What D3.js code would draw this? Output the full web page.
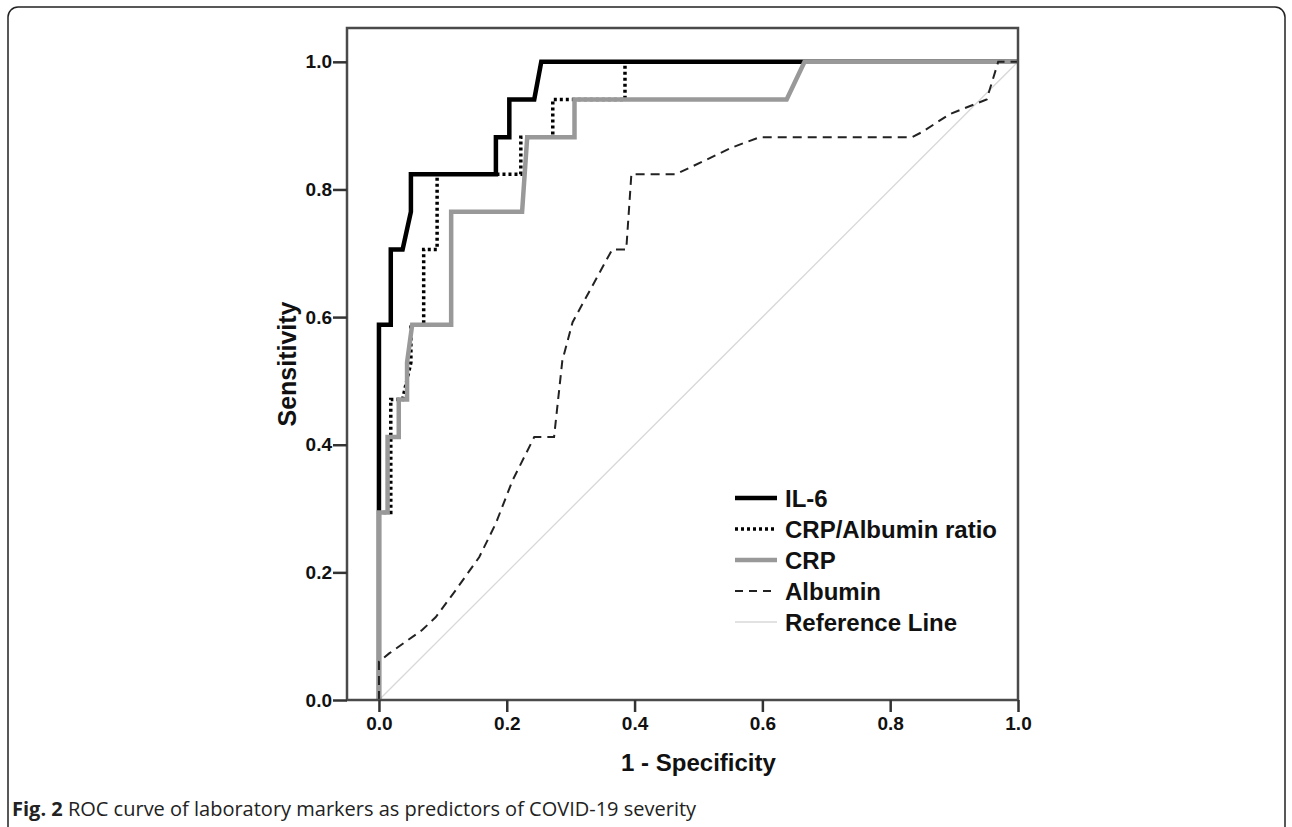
<!DOCTYPE html>
<html>
<head>
<meta charset="utf-8">
<script src="https://cdn.jsdelivr.net/npm/d3@7"></script>
<style>
  body { margin: 0; background: #fff; }
  svg { display: block; }
</style>
</head>
<body>
<div id="chart"></div>
<script>
// ROC curves (1 - specificity, sensitivity)
var il6X = [0, 0, 0.0185, 0.0185, 0.037, 0.05, 0.05, 0.183, 0.183, 0.204, 0.204, 0.243, 0.254, 1];
var il6Y = [0, 0.588, 0.588, 0.706, 0.706, 0.765, 0.824, 0.824, 0.882, 0.882, 0.941, 0.941, 1, 1];

var ratioX = [0, 0, 0.0185, 0.0185, 0.037, 0.05, 0.05, 0.07, 0.07, 0.091, 0.091, 0.222, 0.222, 0.272, 0.272, 0.385, 0.385, 1];
var ratioY = [0, 0.294, 0.294, 0.471, 0.471, 0.529, 0.588, 0.588, 0.706, 0.706, 0.824, 0.824, 0.882, 0.882, 0.941, 0.941, 1, 1];

var crpX = [0, 0, 0.0135, 0.0135, 0.031, 0.031, 0.044, 0.044, 0.052, 0.113, 0.113, 0.224, 0.232, 0.306, 0.306, 0.638, 0.666, 1];
var crpY = [0, 0.294, 0.294, 0.412, 0.412, 0.471, 0.471, 0.529, 0.588, 0.588, 0.765, 0.765, 0.882, 0.882, 0.941, 0.941, 1, 1];

var albX = [0, 0, 0.016, 0.068, 0.089, 0.12, 0.157, 0.183, 0.209, 0.243, 0.274, 0.287, 0.303, 0.365, 0.387, 0.395, 0.465, 0.486, 0.553, 0.596, 0.834, 0.85, 0.893, 0.951, 0.969, 1];
var albY = [0, 0.06, 0.073, 0.11, 0.13, 0.172, 0.224, 0.277, 0.344, 0.412, 0.412, 0.532, 0.592, 0.706, 0.706, 0.824, 0.824, 0.834, 0.866, 0.882, 0.882, 0.89, 0.918, 0.941, 1, 1];

var refX = [0, 1];
var refY = [0, 1];

var tickValues = [0, 0.2, 0.4, 0.6, 0.8, 1.0];
var seriesNames = ["IL-6", "CRP/Albumin ratio", "CRP", "Albumin", "Reference Line"];

function init() {
    var w = 1292;
    var h = 827;
    var svg = d3.select("#chart").append("svg")
                .attr("width", w)
                .attr("height", h);

    // outer figure box
    svg.append("rect")
        .attr("x", 8).attr("y", 7)
        .attr("width", 1277).attr("height", 830)
        .attr("rx", 10)
        .attr("fill", "none")
        .attr("stroke", "#222")
        .attr("stroke-width", 1.5);

    var xScale = d3.scaleLinear().domain([-0.05, 1]).range([347, 1018]);
    var yScale = d3.scaleLinear().domain([0, 1.053]).range([700, 28]);

    var styles = [
        { color: "#000", width: 4.5, dash: null },
        { color: "#000", width: 3.5, dash: "3,3" },
        { color: "#999", width: 4.5, dash: null },
        { color: "#222", width: 2, dash: "9,6" },
        { color: "#d8d8d8", width: 1.3, dash: null }
    ];
    var series = [
        [il6X, il6Y], [ratioX, ratioY], [crpX, crpY], [albX, albY], [refX, refY]
    ];

    var line = d3.line()
        .x(d => xScale(d[0]))
        .y(d => yScale(d[1]));

    // draw reference first, then curves (IL-6 under the others like the original)
    var order = [4, 0, 1, 2, 3];
    order.forEach(function(i) {
        var pts = series[i][0].map((v, j) => [v, series[i][1][j]]);
        svg.append("path")
            .datum(pts)
            .attr("d", line)
            .attr("fill", "none")
            .attr("stroke", styles[i].color)
            .attr("stroke-width", styles[i].width)
            .attr("stroke-dasharray", styles[i].dash)
            .attr("stroke-linejoin", "miter");
    });

    // plot frame
    svg.append("rect")
        .attr("x", xScale(-0.05)).attr("y", yScale(1.053))
        .attr("width", xScale(1) - xScale(-0.05))
        .attr("height", yScale(0) - yScale(1.053))
        .attr("fill", "none")
        .attr("stroke", "#4a4a4a")
        .attr("stroke-width", 2.5);

    var xAxis = d3.axisBottom(xScale)
        .tickValues(tickValues)
        .tickFormat(d3.format(".1f"))
        .tickSize(12)
        .tickPadding(5);
    var yAxis = d3.axisLeft(yScale)
        .tickValues(tickValues)
        .tickFormat(d3.format(".1f"))
        .tickSize(14)
        .tickPadding(1);

    var gx = svg.append("g")
        .attr("transform", `translate(0,${yScale(0)})`)
        .call(xAxis);
    var gy = svg.append("g")
        .attr("transform", `translate(${xScale(-0.05)},0)`)
        .call(yAxis);

    [gx, gy].forEach(function(g) {
        g.select(".domain").remove();
        g.selectAll(".tick line").attr("stroke", "#333").attr("stroke-width", 2.5);
        g.selectAll(".tick text")
            .attr("fill", "#111")
            .style("font-family", "'Liberation Sans', Arial, sans-serif")
            .style("font-weight", "bold")
            .style("font-size", "19px");
    });

    // axis titles
    svg.append("text")
        .attr("x", (xScale(0) + xScale(1)) / 2)
        .attr("y", 771)
        .style("text-anchor", "middle")
        .style("font-family", "'Liberation Sans', Arial, sans-serif")
        .style("font-weight", "bold")
        .style("font-size", "24px")
        .attr("fill", "#111")
        .text("1 - Specificity");

    svg.append("text")
        .attr("transform", "rotate(-90)")
        .attr("x", -364)
        .attr("y", 296)
        .style("text-anchor", "middle")
        .style("font-family", "'Liberation Sans', Arial, sans-serif")
        .style("font-weight", "bold")
        .style("font-size", "25px")
        .attr("fill", "#111")
        .text("Sensitivity");

    // legend
    var legend = svg.append("g").attr("transform", "translate(735,498)");
    seriesNames.forEach(function(name, i) {
        var row = legend.append("g").attr("transform", `translate(0,${i * 31})`);
        row.append("line")
            .attr("x1", 0).attr("x2", 42)
            .attr("y1", 0).attr("y2", 0)
            .attr("stroke", styles[i].color)
            .attr("stroke-width", i === 3 ? 2 : styles[i].width)
            .attr("stroke-dasharray", i === 3 ? "8,6" : styles[i].dash);
        row.append("text")
            .attr("x", 50)
            .attr("y", 0)
            .attr("dy", "0.36em")
            .style("font-family", "'Liberation Sans', Arial, sans-serif")
            .style("font-weight", "bold")
            .style("font-size", "24px")
            .attr("fill", "#111")
            .text(name);
    });

    // caption
    var cap = svg.append("text")
        .attr("x", 12)
        .attr("y", 816)
        .style("font-family", "'Open Sans', 'Noto Sans', sans-serif")
        .style("font-size", "20px")
        .attr("fill", "#222");
    cap.append("tspan").style("font-weight", "bold").text("Fig. 2");
    cap.append("tspan").text(" ROC curve of laboratory markers as predictors of COVID-19 severity");
}

window.onload = init;
</script>
</body>
</html>
